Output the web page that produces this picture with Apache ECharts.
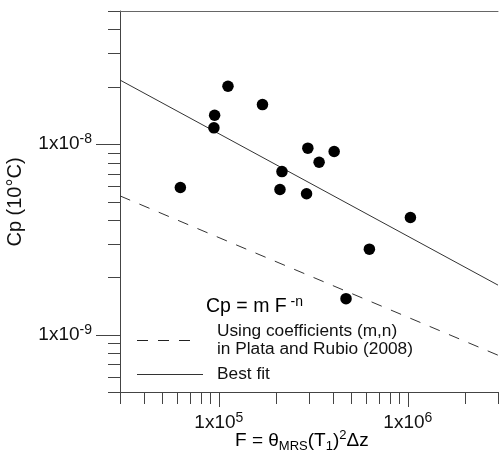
<!DOCTYPE html>
<html>
<head>
<meta charset="utf-8">
<script src="https://cdn.jsdelivr.net/npm/echarts@6/dist/echarts.min.js"></script>
<style>
  html, body { margin: 0; padding: 0; background: #fff; }
  #chart { width: 501px; height: 459px; }
</style>
</head>
<body>
<div id="chart"></div>
<script>
// Measured sites: F = θ_MRS (T1)^2 Δz against Cp
const fValues  = [6.26e4, 9.50e4, 9.42e4, 1.118e5, 1.702e5, 2.158e5, 2.106e5, 2.958e5, 2.912e5, 3.393e5, 4.076e5, 1.032e6, 6.26e5, 4.71e5];
const cpValues = [5.92e-9, 1.419e-8, 1.218e-8, 2.014e-8, 1.613e-8, 7.18e-9, 5.78e-9, 9.53e-9, 5.49e-9, 8.04e-9, 9.15e-9, 4.12e-9, 2.81e-9, 1.545e-9];

// Power laws Cp = m F^-n, given by their end values over the F range
const fitF    = [3e4, 3e6];
const fitCp   = [2.17e-8, 1.82e-9];
const plataF  = [3e4, 3e6];
const plataCp = [5.35e-9, 7.8e-10];

// Axis ranges and tick values
const xRange = [3e4, 3e6];
const yRange = [5e-10, 5e-8];
const xMajorTicks = [1e5, 1e6];
const xMinorTicks = [3e4, 4e4, 5e4, 6e4, 7e4, 8e4, 9e4, 2e5, 3e5, 4e5, 5e5, 6e5, 7e5, 8e5, 9e5, 2e6, 3e6];
const yMajorTicks = [1e-9, 1e-8];
const yMinorTicks = [5e-10, 6e-10, 7e-10, 8e-10, 9e-10, 2e-9, 3e-9, 4e-9, 5e-9, 6e-9, 7e-9, 8e-9, 9e-9, 2e-8, 3e-8, 4e-8, 5e-8];

// Text
const yTitle = 'Cp (10°C)';
const legendHead = ['Cp = m F', ' -n'];
const legendDashed = ['Using coefficients (m,n)', 'in Plata and Rubio (2008)'];
const legendSolid = 'Best fit';

const FONT = '"Liberation Sans", Arial, Helvetica, sans-serif';
const AXIS = '#444';
const INK = '#111';

function powerLabel(v) {
  const e = Math.round(Math.log10(v));
  if (Math.abs(v / Math.pow(10, e) - 1) > 1e-6) return '';
  return '{b|1x10}{s|' + e + '}';
}
const labelRich = {
  b: { fontFamily: FONT, fontSize: 19, lineHeight: 24, color: INK },
  s: { fontFamily: FONT, fontSize: 14, lineHeight: 12, verticalAlign: 'top', color: INK }
};

function tickData(major, minor, other) {
  return major.map(v => [v, other, 1]).concat(minor.map(v => [v, other, 0]));
}
const yTickData = tickData(yMajorTicks, yMinorTicks, 0).map(d => [xRange[0], d[0], d[2]]);
const xTickData = tickData(xMajorTicks, xMinorTicks, yRange[0]);

const chart = echarts.init(document.getElementById('chart'), null, { renderer: 'canvas' });

chart.setOption({
  animation: false,
  backgroundColor: '#fff',
  grid: { left: 120, top: 11, width: 383, height: 381 },
  xAxis: [{
    type: 'log', logBase: 10, min: xRange[0], max: xRange[1],
    axisLine: { show: true, lineStyle: { color: AXIS, width: 1 } },
    axisTick: { show: false },
    minorTick: { show: false },
    splitLine: { show: false },
    axisLabel: { formatter: powerLabel, margin: 19, rich: labelRich, fontFamily: FONT, fontSize: 19, color: INK }
  }, {
    type: 'log', logBase: 10, min: xRange[0], max: xRange[1], position: 'top',
    axisLine: { show: true, onZero: false, lineStyle: { color: '#666', width: 1 } },
    axisTick: { show: false }, axisLabel: { show: false }, splitLine: { show: false }
  }],
  yAxis: {
    type: 'log', logBase: 10, min: yRange[0], max: yRange[1],
    axisLine: { show: true, lineStyle: { color: AXIS, width: 1 } },
    axisTick: { show: false },
    minorTick: { show: false },
    splitLine: { show: false },
    axisLabel: { formatter: powerLabel, margin: 28, rich: labelRich, fontFamily: FONT, fontSize: 19, color: INK }
  },
  series: [
    {
      // tick marks on the F axis
      type: 'custom', silent: true, clip: false, z: 5,
      data: xTickData,
      encode: { x: 0, y: 1 },
      renderItem(params, api) {
        const cs = params.coordSys;
        const x = Math.round(api.coord([api.value(0), yRange[0]])[0]) + 0.5;
        const y = cs.y + cs.height;
        const len = api.value(2) ? 15 : 12;
        return { type: 'line', shape: { x1: x, y1: y, x2: x, y2: y + len }, style: { stroke: AXIS, lineWidth: 1 } };
      }
    },
    {
      // tick marks on the Cp axis
      type: 'custom', silent: true, clip: false, z: 5,
      data: yTickData,
      encode: { x: 0, y: 1 },
      renderItem(params, api) {
        const cs = params.coordSys;
        const y = Math.round(api.coord([xRange[0], api.value(1)])[1]) + 0.5;
        const x = cs.x;
        const len = api.value(2) ? 24 : 12;
        return { type: 'line', shape: { x1: x - len, y1: y, x2: x, y2: y }, style: { stroke: AXIS, lineWidth: 1 } };
      }
    },
    {
      name: 'Plata and Rubio (2008)', type: 'line', showSymbol: false, silent: true,
      data: plataF.map((f, i) => [f, plataCp[i]]),
      lineStyle: { color: '#333', width: 1, type: [11, 10] }
    },
    {
      name: 'Best fit', type: 'line', showSymbol: false, silent: true,
      data: fitF.map((f, i) => [f, fitCp[i]]),
      lineStyle: { color: '#333', width: 1 }
    },
    {
      name: 'Sites', type: 'scatter', symbol: 'circle', symbolSize: 11.5, z: 4,
      data: fValues.map((f, i) => [f, cpValues[i]]),
      itemStyle: { color: '#000', opacity: 1 }
    }
  ],
  graphic: [
    {
      type: 'text', x: 15, y: 202, rotation: Math.PI / 2,
      style: { text: yTitle, font: '20px ' + FONT, fill: INK, align: 'center', verticalAlign: 'middle' }
    },
    {
      type: 'text', x: 235, y: 441,
      style: {
        text: '{a|F = θ}{sub|MRS}{a|(T}{sub|1}{a|)}{sup|2}{a|Δz}',
        align: 'left', verticalAlign: 'middle',
        rich: {
          a: { fontFamily: FONT, fontSize: 19, lineHeight: 24, color: INK },
          sub: { fontFamily: FONT, fontSize: 13, lineHeight: 13, verticalAlign: 'bottom', color: INK },
          sup: { fontFamily: FONT, fontSize: 13, lineHeight: 13, verticalAlign: 'top', color: INK }
        }
      }
    },
    {
      type: 'text', x: 206, y: 307,
      style: {
        text: '{a|' + legendHead[0] + '}{sup|' + legendHead[1] + '}',
        align: 'left', verticalAlign: 'middle',
        rich: {
          a: { fontFamily: FONT, fontSize: 19.5, lineHeight: 24, color: INK },
          sup: { fontFamily: FONT, fontSize: 14, lineHeight: 12, verticalAlign: 'top', color: INK }
        }
      }
    },
    {
      type: 'line', shape: { x1: 137, y1: 340.5, x2: 197, y2: 340.5 },
      style: { stroke: '#222', lineWidth: 1, lineDash: [11, 10] }
    },
    {
      type: 'text', x: 217, y: 331,
      style: { text: legendDashed[0], font: '17.3px ' + FONT, fill: INK, align: 'left', verticalAlign: 'middle' }
    },
    {
      type: 'text', x: 217, y: 349,
      style: { text: legendDashed[1], font: '17.3px ' + FONT, fill: INK, align: 'left', verticalAlign: 'middle' }
    },
    {
      type: 'line', shape: { x1: 137, y1: 374.5, x2: 203, y2: 374.5 },
      style: { stroke: '#333', lineWidth: 1 }
    },
    {
      type: 'text', x: 217, y: 374,
      style: { text: legendSolid, font: '17.3px ' + FONT, fill: INK, align: 'left', verticalAlign: 'middle' }
    }
  ]
});
</script>
</body>
</html>
